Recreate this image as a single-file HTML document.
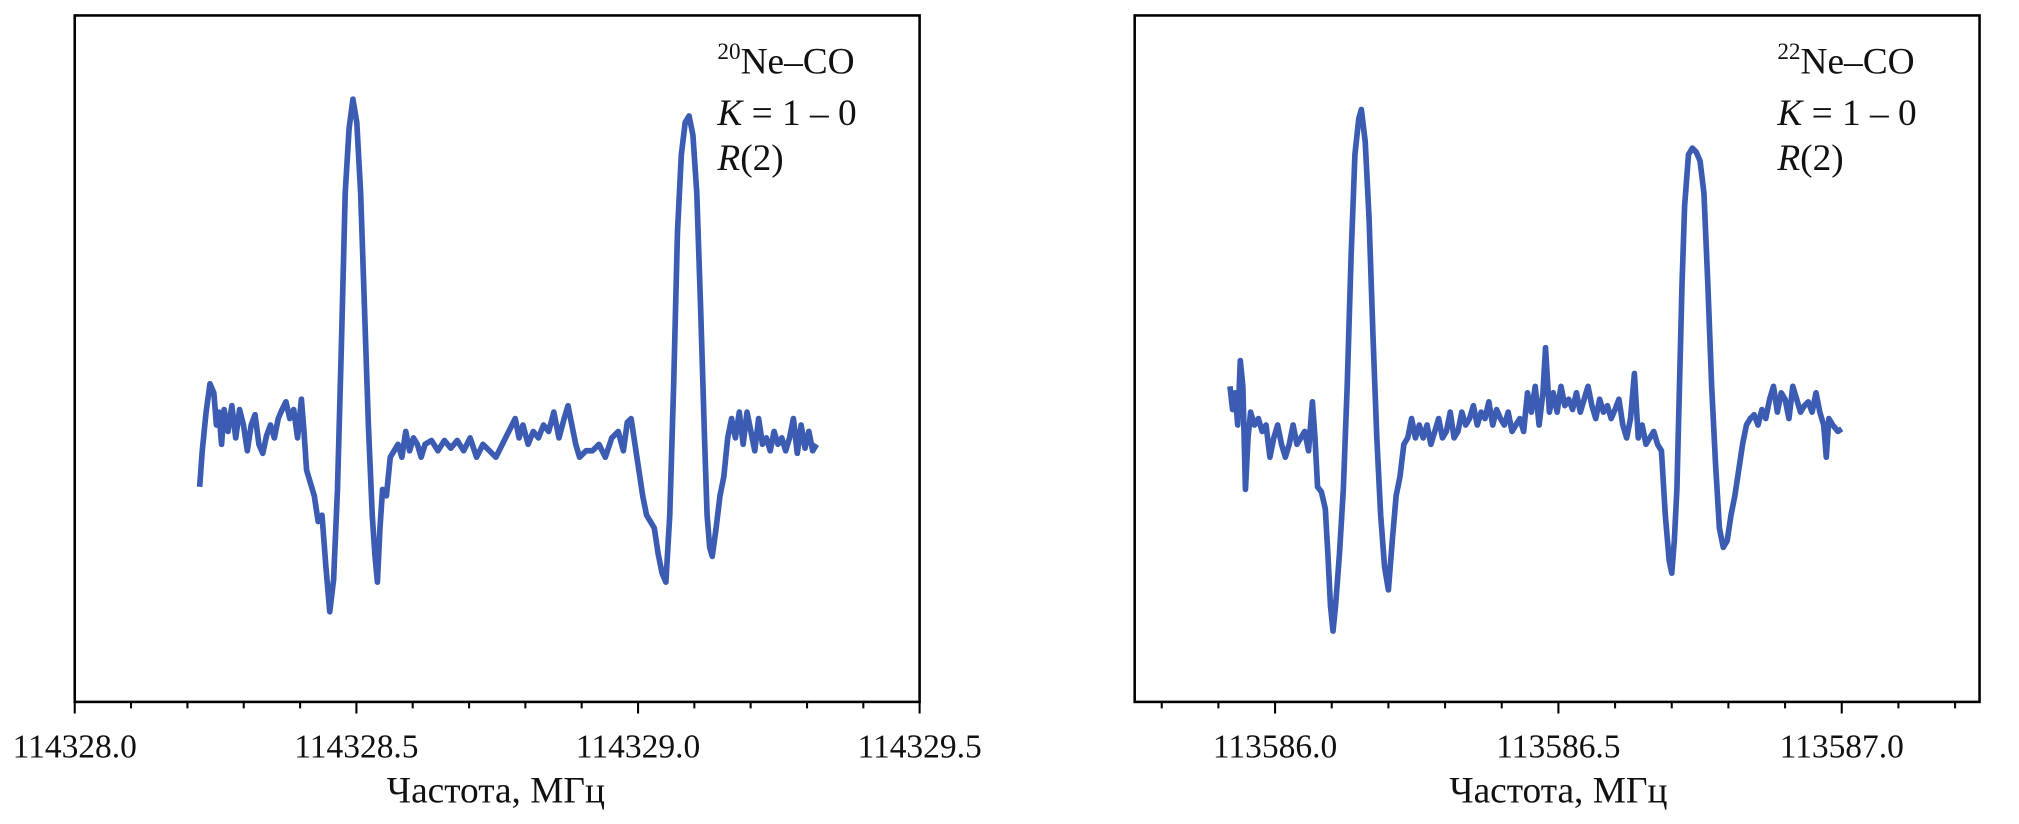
<!DOCTYPE html>
<html><head><meta charset="utf-8"><style>html,body{margin:0;padding:0;background:#fff}svg{display:block}</style></head>
<body>
<svg width="2019" height="824" viewBox="0 0 1567.6 639.8" xmlns="http://www.w3.org/2000/svg" font-family="Liberation Serif, serif" fill="#111">
<rect x="58" y="12" width="656" height="533" fill="none" stroke="#000" stroke-width="2"/>
<rect x="881" y="12" width="656" height="533" fill="none" stroke="#000" stroke-width="2"/>
<g stroke="#000" stroke-width="1.6">
<path d="M58 545v9M101.7 545v5M145.5 545v5M189.2 545v5M233 545v5M276.7 545v9M320.4 545v5M364.2 545v5M407.9 545v5M451.6 545v5M495.4 545v9M539.1 545v5M582.8 545v5M626.6 545v5M670.3 545v5M714 545v9"/>
<path d="M902 545v5M946 545v5M990 545v9M1034 545v5M1078 545v5M1122 545v5M1166 545v5M1210 545v9M1254 545v5M1298 545v5M1342 545v5M1386 545v5M1430 545v9M1474 545v5M1518 545v5"/>
</g>
<g font-size="26" text-anchor="middle">
<text x="58" y="588">114328.0</text><text x="276.7" y="588">114328.5</text><text x="495.4" y="588">114329.0</text><text x="714" y="588">114329.5</text>
<text x="990" y="588">113586.0</text><text x="1210" y="588">113586.5</text><text x="1430" y="588">113587.0</text>
</g>
<g font-size="29" text-anchor="middle">
<text x="385" y="623">Частота, МГц</text><text x="1210" y="623">Частота, МГц</text>
</g>
<g font-size="29">
<text x="557" y="57"><tspan font-size="18" dy="-11">20</tspan><tspan dy="11">Ne–CO</tspan></text>
<text x="557" y="97"><tspan font-style="italic">K</tspan> = 1 – 0</text>
<text x="557" y="132"><tspan font-style="italic">R</tspan>(2)</text>
<text x="1380" y="57"><tspan font-size="18" dy="-11">22</tspan><tspan dy="11">Ne–CO</tspan></text>
<text x="1380" y="97"><tspan font-style="italic">K</tspan> = 1 – 0</text>
<text x="1380" y="132"><tspan font-style="italic">R</tspan>(2)</text>
</g>
<g fill="none" stroke="#3b5cb2" stroke-width="4.4" stroke-linejoin="round">
<polyline points="155,378 157,350 160,320 163,298 166,305 168,330 170,320 172,345 174,318 177,335 180,315 183,340 186,318 189,330 192,350 195,330 198,322 201,345 204,352 207,338 210,330 213,340 216,325 219,318 222,312 225,325 228,318 231,340 234,310 236,335 238,365 241,375 244,385 247,405 250,400 253,440 256,475 259,450 262,380 265,270 268,150 271,100 274,77 277,95 280,150 283,240 286,330 289,400 291,430 293,452 295,410 297,380 300,385 303,355 306,350 309,345 312,355 315,335 318,350 321,340 324,345 327,355 330,345 335,342 340,350 345,342 350,348 355,342 360,350 365,340 370,355 375,345 380,350 385,355 390,345 395,335 400,325 403,340 406,330 410,345 414,335 418,340 422,330 426,335 430,320 434,340 438,325 441,315 444,330 447,345 450,355 455,350 460,350 465,345 470,355 475,340 480,335 484,350 487,328 490,325 493,345 496,365 499,385 502,400 505,405 508,410 511,430 514,445 517,452 520,400 523,300 526,180 529,120 532,95 535,90 538,105 541,150 544,240 547,340 549,400 551,425 553,432 556,410 559,385 562,370 565,340 568,325 571,340 574,320 577,345 580,320 583,335 586,350 589,325 592,345 595,340 598,350 601,335 604,345 607,340 610,350 613,340 616,325 619,352 622,330 625,348 628,335 631,350 634,345"/>
<polyline points="955,300 957,318 959,305 961,330 963,280 965,300 967,380 969,340 971,320 974,330 977,325 980,335 983,330 986,355 989,340 992,330 995,345 998,355 1001,345 1004,330 1007,345 1010,340 1013,335 1016,350 1019,312 1021,340 1023,378 1026,382 1029,395 1031,430 1033,470 1035,490 1037,470 1040,430 1043,380 1046,300 1049,200 1052,120 1055,92 1057,85 1060,110 1063,170 1066,260 1069,340 1072,400 1075,440 1078,458 1081,420 1084,385 1087,370 1090,345 1093,340 1096,325 1099,340 1102,330 1105,340 1108,330 1111,345 1114,335 1117,325 1120,340 1123,335 1126,320 1129,340 1132,335 1135,320 1138,330 1141,325 1144,315 1147,330 1150,320 1153,325 1156,312 1159,330 1162,318 1165,325 1168,330 1171,320 1174,335 1177,330 1180,325 1183,335 1186,305 1189,320 1192,300 1195,330 1198,305 1200,270 1203,320 1206,305 1209,320 1212,300 1215,315 1218,310 1221,318 1224,305 1227,320 1230,310 1233,300 1236,315 1239,325 1242,310 1245,320 1248,315 1251,325 1254,318 1257,310 1260,330 1263,340 1266,325 1269,290 1272,340 1275,330 1278,345 1281,340 1284,335 1287,345 1290,350 1293,400 1296,435 1298,445 1300,420 1302,380 1304,300 1306,220 1308,160 1311,120 1314,115 1317,118 1320,125 1323,150 1326,220 1329,300 1332,360 1335,410 1338,425 1341,420 1344,400 1347,385 1350,365 1353,345 1356,330 1359,325 1362,322 1365,330 1368,318 1371,325 1374,310 1377,300 1380,320 1383,305 1386,310 1389,325 1392,300 1395,310 1398,320 1401,315 1404,312 1407,320 1410,305 1413,320 1416,330 1418,355 1420,325 1423,330 1427,335 1430,333"/>
</g>
</svg>
</body></html>
